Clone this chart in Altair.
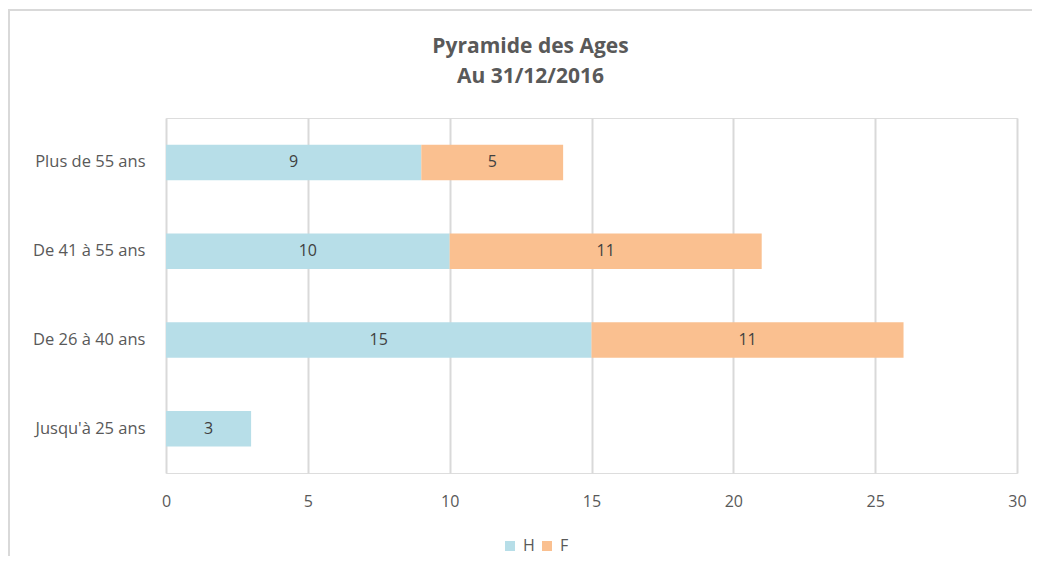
import altair as alt
import pandas as pd

categories = ["Plus de 55 ans", "De 41 à 55 ans", "De 26 à 40 ans", "Jusqu'à 25 ans"]
h_values = [9, 10, 15, 3]
f_values = [5, 11, 11, 0]
series = ["H", "F"]
colors = ["#B7DEE8", "#FAC090"]
x_ticks = [0, 5, 10, 15, 20, 25, 30]

rows = []
for c, h, f in zip(categories, h_values, f_values):
    rows.append({"cat": c, "sexe": "H", "n": h, "ord": 0})
    rows.append({"cat": c, "sexe": "F", "n": f, "ord": 1})
df = pd.DataFrame(rows)

FONT = "Open Sans"
GREY = "#595959"

base = alt.Chart(df).transform_filter("datum.n > 0").transform_stack(
    stack="n", groupby=["cat"], as_=["x0", "x1"], sort=[alt.SortField("ord", order="ascending")]
).transform_calculate(mid="(datum.x0 + datum.x1) / 2")

yenc = alt.Y("cat:N", sort=categories, title=None,
             scale=alt.Scale(paddingInner=0.6, paddingOuter=0.3),
             axis=alt.Axis(labelFont=FONT, labelFontSize=16.5, labelColor=GREY,
                           labelPadding=21, ticks=False, domain=False, grid=False))

bars = base.mark_bar().encode(
    x=alt.X("x0:Q", title=None,
            scale=alt.Scale(domain=[0, 30], nice=False),
            axis=alt.Axis(values=x_ticks, labelFont=FONT, labelFontSize=16, labelColor=GREY,
                          labelPadding=20, labelFlush=False, ticks=False, domain=False,
                          grid=True, gridColor="#D9D9D9", gridWidth=2)),
    x2="x1:Q",
    y=yenc,
    color=alt.Color("sexe:N", scale=alt.Scale(domain=series, range=colors), sort=series,
                    legend=alt.Legend(title=None, orient="none", direction="horizontal",
                                      legendX=336, legendY=420, symbolType="square",
                                      symbolSize=100, symbolStrokeWidth=0,
                                      labelFont=FONT, labelFontSize=16, labelColor=GREY,
                                      columnPadding=4, labelOffset=5)),
)

labels = base.mark_text(font=FONT, fontSize=16, color="#404040").encode(
    x="mid:Q",
    y=alt.Y("cat:N", sort=categories),
    text="n:Q",
)

frame_left = alt.Chart(df).mark_rule(color="#D9D9D9", strokeWidth=2).encode(
    x=alt.value(-157), y=alt.value(-108), y2=alt.value(438))
frame_top = alt.Chart(df).mark_rule(color="#D9D9D9", strokeWidth=2).encode(
    x=alt.value(-158), x2=alt.value(866), y=alt.value(-108))

chart = alt.layer(frame_left, frame_top, bars, labels).properties(
    width=851, height=355,
    padding={"left": 158, "top": 110, "right": 15, "bottom": 83},
    autosize=alt.AutoSizeParams(type="none"),
    title=alt.TitleParams(text=["Pyramide des Ages", "Au 31/12/2016"], font=FONT, fontSize=21,
                          fontWeight="bold", color=GREY, lineHeight=30, anchor="middle",
                          dx=-61, offset=-78),
).configure_view(strokeWidth=0).configure(background="white")

chart.save("out.html", embed_options={"renderer": "svg", "actions": False})
